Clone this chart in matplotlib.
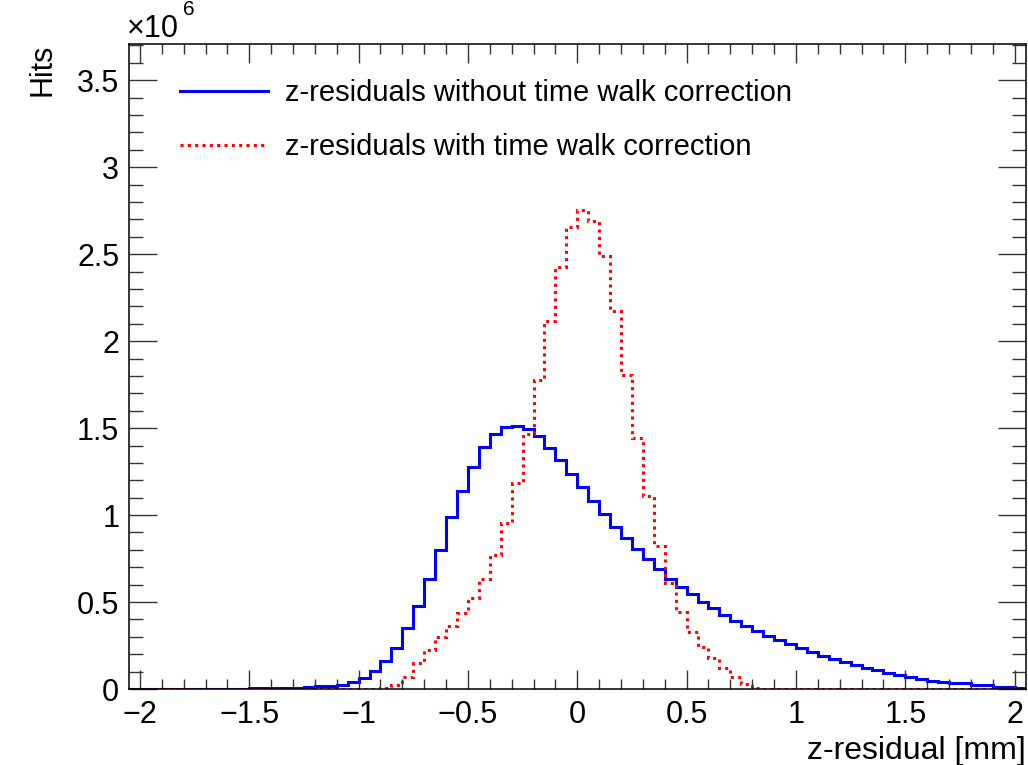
import numpy as np
import matplotlib
matplotlib.use('Agg')
import matplotlib.pyplot as plt
from matplotlib.ticker import MultipleLocator, FuncFormatter

plt.rcParams['font.family'] = ['Liberation Sans', 'DejaVu Sans']

# histogram binning: 82 bins of 0.05 mm
bin_lo, bin_hi, n_bins = -2.05, 2.05, 82
edges = np.linspace(bin_lo, bin_hi, n_bins + 1)

# bin contents in units of 1e6 hits
hits_no_tw = [
    0.000, 0.000, 0.000, 0.000, 0.001, 0.001, 0.001, 0.001, 0.002, 0.002,
    0.003, 0.004, 0.005, 0.006, 0.008, 0.008, 0.010, 0.015, 0.019, 0.025,
    0.040, 0.063, 0.105, 0.161, 0.234, 0.349, 0.478, 0.631, 0.800, 0.988,
    1.141, 1.279, 1.394, 1.467, 1.506, 1.515, 1.494, 1.452, 1.385, 1.314,
    1.237, 1.160, 1.080, 1.005, 0.934, 0.867, 0.804, 0.746, 0.689, 0.631,
    0.585, 0.547, 0.502, 0.464, 0.424, 0.391, 0.362, 0.332, 0.307, 0.284,
    0.257, 0.234, 0.211, 0.190, 0.171, 0.154, 0.138, 0.123, 0.109, 0.092,
    0.081, 0.067, 0.058, 0.048, 0.042, 0.034, 0.032, 0.024, 0.022, 0.014,
    0.012, 0.008,
]
hits_tw = [
    0.000, 0.000, 0.000, 0.000, 0.000, 0.000, 0.000, 0.000, 0.000, 0.000,
    0.000, 0.000, 0.000, 0.000, 0.000, 0.000, 0.000, 0.000, 0.000, 0.000,
    0.000, 0.001, 0.002, 0.004,
    0.025, 0.068, 0.148, 0.226, 0.301, 0.362, 0.436, 0.522, 0.631, 0.771,
    0.957, 1.183, 1.468, 1.774, 2.113, 2.426, 2.656, 2.752, 2.689, 2.487,
    2.171, 1.807, 1.442, 1.107, 0.825, 0.608, 0.445, 0.326, 0.244, 0.176,
    0.119, 0.067, 0.029, 0.004,
    0.001, 0.000, 0.000, 0.000, 0.000, 0.000, 0.000, 0.000, 0.000, 0.000,
    0.000, 0.000, 0.000, 0.000, 0.000, 0.000, 0.000, 0.000, 0.000, 0.000,
    0.000, 0.000, 0.000, 0.000,
]
labels = ['z-residuals without time walk correction',
          'z-residuals with time walk correction']

fig = plt.figure(figsize=(10.28, 7.65), dpi=100)
ax = fig.add_axes([0.1255, 0.0993, 0.8721, 0.8436])

ax.stairs(np.array(hits_no_tw) * 1e6, edges, color='#0000ff', lw=2.2,
          label=labels[0])
ax.stairs(np.array(hits_tw) * 1e6, edges, color='#ff0000', lw=2.2,
          linestyle=(0, (1.0, 1.4)), label=labels[1])

ax.set_xlim(-2.05, 2.05)
ax.set_ylim(0, 3.71e6)

ax.xaxis.set_major_locator(MultipleLocator(0.5))
ax.xaxis.set_minor_locator(MultipleLocator(0.1))
ax.yaxis.set_major_locator(MultipleLocator(0.5e6))
ax.yaxis.set_minor_locator(MultipleLocator(0.1e6))
ax.xaxis.set_major_formatter(FuncFormatter(lambda v, p: ('%g' % v).replace('-', '\u2212')))
ax.yaxis.set_major_formatter(FuncFormatter(lambda v, p: '%g' % (v / 1e6)))

ax.tick_params(axis='both', which='both', direction='in', top=True, right=True,
               width=1.0, color='#333333', labelsize=22)
ax.tick_params(axis='x', which='major', length=14, pad=8)
ax.tick_params(axis='x', which='minor', length=7)
ax.tick_params(axis='y', which='major', length=20, pad=7)
ax.tick_params(axis='y', which='minor', length=10)
for s in ax.spines.values():
    s.set_linewidth(1.1)
    s.set_color('black')

ax.set_xlabel('z-residual [mm]', fontsize=23, loc='right', labelpad=4)
ax.set_ylabel('Hits', fontsize=22, loc='top', labelpad=14)

fig.text(0.1235, 0.951, '\u00d710', fontsize=22, ha='left', va='baseline')
fig.text(0.178, 0.981, '6', fontsize=15, ha='left', va='baseline')

ax.legend(loc='upper left', bbox_to_anchor=(0.057, 0.945), frameon=False,
          fontsize=21, handlelength=3.0, handletextpad=0.6, labelspacing=0.88,
          borderpad=0, borderaxespad=0)

fig.savefig('out.png', dpi=100)
